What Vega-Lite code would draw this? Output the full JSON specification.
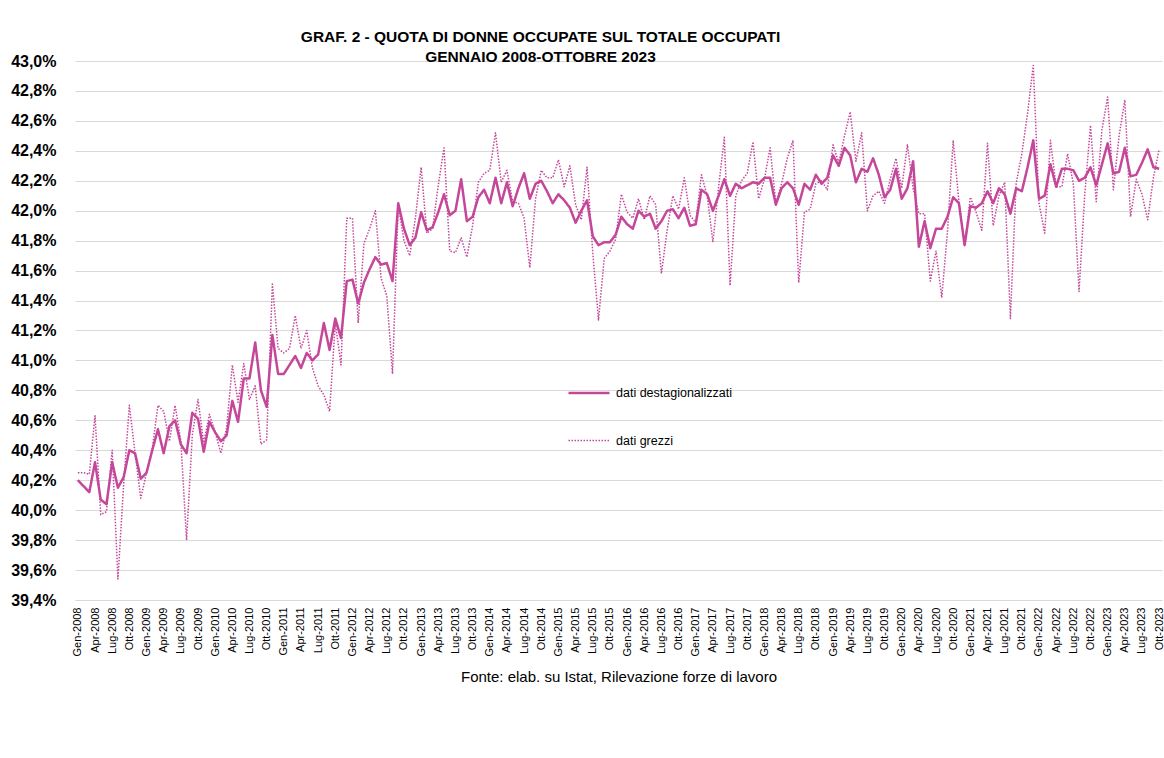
{
  "$schema": "https://vega.github.io/schema/vega-lite/v6.json",
  "autosize": {"type": "none"},
  "width": 1087,
  "height": 539,
  "padding": {"left": 75, "top": 61, "right": 2, "bottom": 158},
  "background": "white",
  "title": {
    "text": ["GRAF. 2 - QUOTA DI DONNE OCCUPATE SUL TOTALE OCCUPATI", "GENNAIO 2008-OTTOBRE 2023"],
    "anchor": "middle",
    "frame": "group",
    "dx": -78,
    "offset": -12,
    "font": "Liberation Sans",
    "fontSize": 15.5,
    "fontWeight": "bold",
    "color": "#000000",
    "lineHeight": 20
  },
  "config": {
    "view": {"stroke": null},
    "font": "Liberation Sans",
    "legend": {
      "orient": "none",
      "legendX": 492,
      "legendY": 310,
      "padding": 0,
      "symbolType": "stroke",
      "symbolSize": 1681,
      "symbolStrokeColor": "#C5479A",
      "rowPadding": 19,
      "labelOffset": 5,
      "labelFont": "Liberation Sans",
      "labelFontSize": 12.5,
      "labelColor": "#000000"
    }
  },
  "data": {"values": [
    {"m":"Gen-2008","s":"destagionalizzati","v":40.20},{"m":"Feb-2008","s":"destagionalizzati","v":40.16},{"m":"Mar-2008","s":"destagionalizzati","v":40.12},{"m":"Apr-2008","s":"destagionalizzati","v":40.32},{"m":"Mag-2008","s":"destagionalizzati","v":40.07},{"m":"Giu-2008","s":"destagionalizzati","v":40.04},{"m":"Lug-2008","s":"destagionalizzati","v":40.32},{"m":"Ago-2008","s":"destagionalizzati","v":40.15},{"m":"Set-2008","s":"destagionalizzati","v":40.22},{"m":"Ott-2008","s":"destagionalizzati","v":40.40},{"m":"Nov-2008","s":"destagionalizzati","v":40.38},{"m":"Dic-2008","s":"destagionalizzati","v":40.21},
    {"m":"Gen-2009","s":"destagionalizzati","v":40.25},{"m":"Feb-2009","s":"destagionalizzati","v":40.40},{"m":"Mar-2009","s":"destagionalizzati","v":40.54},{"m":"Apr-2009","s":"destagionalizzati","v":40.38},{"m":"Mag-2009","s":"destagionalizzati","v":40.56},{"m":"Giu-2009","s":"destagionalizzati","v":40.60},{"m":"Lug-2009","s":"destagionalizzati","v":40.44},{"m":"Ago-2009","s":"destagionalizzati","v":40.38},{"m":"Set-2009","s":"destagionalizzati","v":40.65},{"m":"Ott-2009","s":"destagionalizzati","v":40.61},{"m":"Nov-2009","s":"destagionalizzati","v":40.39},{"m":"Dic-2009","s":"destagionalizzati","v":40.59},
    {"m":"Gen-2010","s":"destagionalizzati","v":40.52},{"m":"Feb-2010","s":"destagionalizzati","v":40.46},{"m":"Mar-2010","s":"destagionalizzati","v":40.50},{"m":"Apr-2010","s":"destagionalizzati","v":40.73},{"m":"Mag-2010","s":"destagionalizzati","v":40.59},{"m":"Giu-2010","s":"destagionalizzati","v":40.88},{"m":"Lug-2010","s":"destagionalizzati","v":40.88},{"m":"Ago-2010","s":"destagionalizzati","v":41.12},{"m":"Set-2010","s":"destagionalizzati","v":40.80},{"m":"Ott-2010","s":"destagionalizzati","v":40.69},{"m":"Nov-2010","s":"destagionalizzati","v":41.17},{"m":"Dic-2010","s":"destagionalizzati","v":40.91},
    {"m":"Gen-2011","s":"destagionalizzati","v":40.91},{"m":"Feb-2011","s":"destagionalizzati","v":40.97},{"m":"Mar-2011","s":"destagionalizzati","v":41.03},{"m":"Apr-2011","s":"destagionalizzati","v":40.95},{"m":"Mag-2011","s":"destagionalizzati","v":41.05},{"m":"Giu-2011","s":"destagionalizzati","v":41.00},{"m":"Lug-2011","s":"destagionalizzati","v":41.04},{"m":"Ago-2011","s":"destagionalizzati","v":41.25},{"m":"Set-2011","s":"destagionalizzati","v":41.07},{"m":"Ott-2011","s":"destagionalizzati","v":41.28},{"m":"Nov-2011","s":"destagionalizzati","v":41.15},{"m":"Dic-2011","s":"destagionalizzati","v":41.53},
    {"m":"Gen-2012","s":"destagionalizzati","v":41.54},{"m":"Feb-2012","s":"destagionalizzati","v":41.38},{"m":"Mar-2012","s":"destagionalizzati","v":41.52},{"m":"Apr-2012","s":"destagionalizzati","v":41.61},{"m":"Mag-2012","s":"destagionalizzati","v":41.69},{"m":"Giu-2012","s":"destagionalizzati","v":41.64},{"m":"Lug-2012","s":"destagionalizzati","v":41.65},{"m":"Ago-2012","s":"destagionalizzati","v":41.53},{"m":"Set-2012","s":"destagionalizzati","v":42.05},{"m":"Ott-2012","s":"destagionalizzati","v":41.88},{"m":"Nov-2012","s":"destagionalizzati","v":41.77},{"m":"Dic-2012","s":"destagionalizzati","v":41.82},
    {"m":"Gen-2013","s":"destagionalizzati","v":41.99},{"m":"Feb-2013","s":"destagionalizzati","v":41.87},{"m":"Mar-2013","s":"destagionalizzati","v":41.89},{"m":"Apr-2013","s":"destagionalizzati","v":41.99},{"m":"Mag-2013","s":"destagionalizzati","v":42.11},{"m":"Giu-2013","s":"destagionalizzati","v":41.97},{"m":"Lug-2013","s":"destagionalizzati","v":42.00},{"m":"Ago-2013","s":"destagionalizzati","v":42.21},{"m":"Set-2013","s":"destagionalizzati","v":41.93},{"m":"Ott-2013","s":"destagionalizzati","v":41.96},{"m":"Nov-2013","s":"destagionalizzati","v":42.09},{"m":"Dic-2013","s":"destagionalizzati","v":42.14},
    {"m":"Gen-2014","s":"destagionalizzati","v":42.05},{"m":"Feb-2014","s":"destagionalizzati","v":42.22},{"m":"Mar-2014","s":"destagionalizzati","v":42.05},{"m":"Apr-2014","s":"destagionalizzati","v":42.19},{"m":"Mag-2014","s":"destagionalizzati","v":42.03},{"m":"Giu-2014","s":"destagionalizzati","v":42.15},{"m":"Lug-2014","s":"destagionalizzati","v":42.25},{"m":"Ago-2014","s":"destagionalizzati","v":42.08},{"m":"Set-2014","s":"destagionalizzati","v":42.18},{"m":"Ott-2014","s":"destagionalizzati","v":42.20},{"m":"Nov-2014","s":"destagionalizzati","v":42.13},{"m":"Dic-2014","s":"destagionalizzati","v":42.05},
    {"m":"Gen-2015","s":"destagionalizzati","v":42.11},{"m":"Feb-2015","s":"destagionalizzati","v":42.07},{"m":"Mar-2015","s":"destagionalizzati","v":42.02},{"m":"Apr-2015","s":"destagionalizzati","v":41.92},{"m":"Mag-2015","s":"destagionalizzati","v":42.00},{"m":"Giu-2015","s":"destagionalizzati","v":42.07},{"m":"Lug-2015","s":"destagionalizzati","v":41.83},{"m":"Ago-2015","s":"destagionalizzati","v":41.77},{"m":"Set-2015","s":"destagionalizzati","v":41.79},{"m":"Ott-2015","s":"destagionalizzati","v":41.79},{"m":"Nov-2015","s":"destagionalizzati","v":41.84},{"m":"Dic-2015","s":"destagionalizzati","v":41.96},
    {"m":"Gen-2016","s":"destagionalizzati","v":41.91},{"m":"Feb-2016","s":"destagionalizzati","v":41.88},{"m":"Mar-2016","s":"destagionalizzati","v":42.00},{"m":"Apr-2016","s":"destagionalizzati","v":41.96},{"m":"Mag-2016","s":"destagionalizzati","v":41.98},{"m":"Giu-2016","s":"destagionalizzati","v":41.88},{"m":"Lug-2016","s":"destagionalizzati","v":41.93},{"m":"Ago-2016","s":"destagionalizzati","v":42.00},{"m":"Set-2016","s":"destagionalizzati","v":42.01},{"m":"Ott-2016","s":"destagionalizzati","v":41.95},{"m":"Nov-2016","s":"destagionalizzati","v":42.02},{"m":"Dic-2016","s":"destagionalizzati","v":41.90},
    {"m":"Gen-2017","s":"destagionalizzati","v":41.91},{"m":"Feb-2017","s":"destagionalizzati","v":42.14},{"m":"Mar-2017","s":"destagionalizzati","v":42.11},{"m":"Apr-2017","s":"destagionalizzati","v":42.00},{"m":"Mag-2017","s":"destagionalizzati","v":42.10},{"m":"Giu-2017","s":"destagionalizzati","v":42.21},{"m":"Lug-2017","s":"destagionalizzati","v":42.10},{"m":"Ago-2017","s":"destagionalizzati","v":42.18},{"m":"Set-2017","s":"destagionalizzati","v":42.15},{"m":"Ott-2017","s":"destagionalizzati","v":42.17},{"m":"Nov-2017","s":"destagionalizzati","v":42.19},{"m":"Dic-2017","s":"destagionalizzati","v":42.18},
    {"m":"Gen-2018","s":"destagionalizzati","v":42.22},{"m":"Feb-2018","s":"destagionalizzati","v":42.22},{"m":"Mar-2018","s":"destagionalizzati","v":42.04},{"m":"Apr-2018","s":"destagionalizzati","v":42.15},{"m":"Mag-2018","s":"destagionalizzati","v":42.19},{"m":"Giu-2018","s":"destagionalizzati","v":42.15},{"m":"Lug-2018","s":"destagionalizzati","v":42.04},{"m":"Ago-2018","s":"destagionalizzati","v":42.18},{"m":"Set-2018","s":"destagionalizzati","v":42.14},{"m":"Ott-2018","s":"destagionalizzati","v":42.24},{"m":"Nov-2018","s":"destagionalizzati","v":42.18},{"m":"Dic-2018","s":"destagionalizzati","v":42.22},
    {"m":"Gen-2019","s":"destagionalizzati","v":42.37},{"m":"Feb-2019","s":"destagionalizzati","v":42.30},{"m":"Mar-2019","s":"destagionalizzati","v":42.42},{"m":"Apr-2019","s":"destagionalizzati","v":42.37},{"m":"Mag-2019","s":"destagionalizzati","v":42.19},{"m":"Giu-2019","s":"destagionalizzati","v":42.28},{"m":"Lug-2019","s":"destagionalizzati","v":42.26},{"m":"Ago-2019","s":"destagionalizzati","v":42.35},{"m":"Set-2019","s":"destagionalizzati","v":42.24},{"m":"Ott-2019","s":"destagionalizzati","v":42.09},{"m":"Nov-2019","s":"destagionalizzati","v":42.14},{"m":"Dic-2019","s":"destagionalizzati","v":42.28},
    {"m":"Gen-2020","s":"destagionalizzati","v":42.08},{"m":"Feb-2020","s":"destagionalizzati","v":42.15},{"m":"Mar-2020","s":"destagionalizzati","v":42.33},{"m":"Apr-2020","s":"destagionalizzati","v":41.76},{"m":"Mag-2020","s":"destagionalizzati","v":41.93},{"m":"Giu-2020","s":"destagionalizzati","v":41.75},{"m":"Lug-2020","s":"destagionalizzati","v":41.88},{"m":"Ago-2020","s":"destagionalizzati","v":41.88},{"m":"Set-2020","s":"destagionalizzati","v":41.96},{"m":"Ott-2020","s":"destagionalizzati","v":42.09},{"m":"Nov-2020","s":"destagionalizzati","v":42.05},{"m":"Dic-2020","s":"destagionalizzati","v":41.77},
    {"m":"Gen-2021","s":"destagionalizzati","v":42.03},{"m":"Feb-2021","s":"destagionalizzati","v":42.02},{"m":"Mar-2021","s":"destagionalizzati","v":42.05},{"m":"Apr-2021","s":"destagionalizzati","v":42.13},{"m":"Mag-2021","s":"destagionalizzati","v":42.05},{"m":"Giu-2021","s":"destagionalizzati","v":42.15},{"m":"Lug-2021","s":"destagionalizzati","v":42.11},{"m":"Ago-2021","s":"destagionalizzati","v":41.98},{"m":"Set-2021","s":"destagionalizzati","v":42.15},{"m":"Ott-2021","s":"destagionalizzati","v":42.13},{"m":"Nov-2021","s":"destagionalizzati","v":42.29},{"m":"Dic-2021","s":"destagionalizzati","v":42.47},
    {"m":"Gen-2022","s":"destagionalizzati","v":42.08},{"m":"Feb-2022","s":"destagionalizzati","v":42.10},{"m":"Mar-2022","s":"destagionalizzati","v":42.31},{"m":"Apr-2022","s":"destagionalizzati","v":42.16},{"m":"Mag-2022","s":"destagionalizzati","v":42.28},{"m":"Giu-2022","s":"destagionalizzati","v":42.28},{"m":"Lug-2022","s":"destagionalizzati","v":42.27},{"m":"Ago-2022","s":"destagionalizzati","v":42.20},{"m":"Set-2022","s":"destagionalizzati","v":42.22},{"m":"Ott-2022","s":"destagionalizzati","v":42.29},{"m":"Nov-2022","s":"destagionalizzati","v":42.17},{"m":"Dic-2022","s":"destagionalizzati","v":42.31},
    {"m":"Gen-2023","s":"destagionalizzati","v":42.45},{"m":"Feb-2023","s":"destagionalizzati","v":42.25},{"m":"Mar-2023","s":"destagionalizzati","v":42.26},{"m":"Apr-2023","s":"destagionalizzati","v":42.42},{"m":"Mag-2023","s":"destagionalizzati","v":42.23},{"m":"Giu-2023","s":"destagionalizzati","v":42.24},{"m":"Lug-2023","s":"destagionalizzati","v":42.32},{"m":"Ago-2023","s":"destagionalizzati","v":42.41},{"m":"Set-2023","s":"destagionalizzati","v":42.29},{"m":"Ott-2023","s":"destagionalizzati","v":42.28},
    {"m":"Gen-2008","s":"grezzi","v":40.25},{"m":"Feb-2008","s":"grezzi","v":40.25},{"m":"Mar-2008","s":"grezzi","v":40.24},{"m":"Apr-2008","s":"grezzi","v":40.63},{"m":"Mag-2008","s":"grezzi","v":39.97},{"m":"Giu-2008","s":"grezzi","v":39.99},{"m":"Lug-2008","s":"grezzi","v":40.40},{"m":"Ago-2008","s":"grezzi","v":39.54},{"m":"Set-2008","s":"grezzi","v":40.17},{"m":"Ott-2008","s":"grezzi","v":40.70},{"m":"Nov-2008","s":"grezzi","v":40.38},{"m":"Dic-2008","s":"grezzi","v":40.08},
    {"m":"Gen-2009","s":"grezzi","v":40.25},{"m":"Feb-2009","s":"grezzi","v":40.41},{"m":"Mar-2009","s":"grezzi","v":40.70},{"m":"Apr-2009","s":"grezzi","v":40.66},{"m":"Mag-2009","s":"grezzi","v":40.46},{"m":"Giu-2009","s":"grezzi","v":40.70},{"m":"Lug-2009","s":"grezzi","v":40.46},{"m":"Ago-2009","s":"grezzi","v":39.80},{"m":"Set-2009","s":"grezzi","v":40.50},{"m":"Ott-2009","s":"grezzi","v":40.74},{"m":"Nov-2009","s":"grezzi","v":40.45},{"m":"Dic-2009","s":"grezzi","v":40.64},
    {"m":"Gen-2010","s":"grezzi","v":40.52},{"m":"Feb-2010","s":"grezzi","v":40.38},{"m":"Mar-2010","s":"grezzi","v":40.55},{"m":"Apr-2010","s":"grezzi","v":40.97},{"m":"Mag-2010","s":"grezzi","v":40.72},{"m":"Giu-2010","s":"grezzi","v":40.98},{"m":"Lug-2010","s":"grezzi","v":40.74},{"m":"Ago-2010","s":"grezzi","v":40.83},{"m":"Set-2010","s":"grezzi","v":40.44},{"m":"Ott-2010","s":"grezzi","v":40.47},{"m":"Nov-2010","s":"grezzi","v":41.51},{"m":"Dic-2010","s":"grezzi","v":41.08},
    {"m":"Gen-2011","s":"grezzi","v":41.05},{"m":"Feb-2011","s":"grezzi","v":41.08},{"m":"Mar-2011","s":"grezzi","v":41.30},{"m":"Apr-2011","s":"grezzi","v":41.08},{"m":"Mag-2011","s":"grezzi","v":41.20},{"m":"Giu-2011","s":"grezzi","v":40.95},{"m":"Lug-2011","s":"grezzi","v":40.83},{"m":"Ago-2011","s":"grezzi","v":40.77},{"m":"Set-2011","s":"grezzi","v":40.66},{"m":"Ott-2011","s":"grezzi","v":41.25},{"m":"Nov-2011","s":"grezzi","v":40.97},{"m":"Dic-2011","s":"grezzi","v":41.95},
    {"m":"Gen-2012","s":"grezzi","v":41.95},{"m":"Feb-2012","s":"grezzi","v":41.25},{"m":"Mar-2012","s":"grezzi","v":41.78},{"m":"Apr-2012","s":"grezzi","v":41.88},{"m":"Mag-2012","s":"grezzi","v":42.00},{"m":"Giu-2012","s":"grezzi","v":41.55},{"m":"Lug-2012","s":"grezzi","v":41.43},{"m":"Ago-2012","s":"grezzi","v":40.91},{"m":"Set-2012","s":"grezzi","v":42.04},{"m":"Ott-2012","s":"grezzi","v":41.80},{"m":"Nov-2012","s":"grezzi","v":41.70},{"m":"Dic-2012","s":"grezzi","v":41.95},
    {"m":"Gen-2013","s":"grezzi","v":42.29},{"m":"Feb-2013","s":"grezzi","v":41.85},{"m":"Mar-2013","s":"grezzi","v":41.88},{"m":"Apr-2013","s":"grezzi","v":42.17},{"m":"Mag-2013","s":"grezzi","v":42.42},{"m":"Giu-2013","s":"grezzi","v":41.73},{"m":"Lug-2013","s":"grezzi","v":41.72},{"m":"Ago-2013","s":"grezzi","v":41.82},{"m":"Set-2013","s":"grezzi","v":41.69},{"m":"Ott-2013","s":"grezzi","v":41.90},{"m":"Nov-2013","s":"grezzi","v":42.19},{"m":"Dic-2013","s":"grezzi","v":42.25},
    {"m":"Gen-2014","s":"grezzi","v":42.27},{"m":"Feb-2014","s":"grezzi","v":42.52},{"m":"Mar-2014","s":"grezzi","v":42.19},{"m":"Apr-2014","s":"grezzi","v":42.27},{"m":"Mag-2014","s":"grezzi","v":42.06},{"m":"Giu-2014","s":"grezzi","v":42.05},{"m":"Lug-2014","s":"grezzi","v":41.95},{"m":"Ago-2014","s":"grezzi","v":41.62},{"m":"Set-2014","s":"grezzi","v":42.08},{"m":"Ott-2014","s":"grezzi","v":42.27},{"m":"Nov-2014","s":"grezzi","v":42.22},{"m":"Dic-2014","s":"grezzi","v":42.22},
    {"m":"Gen-2015","s":"grezzi","v":42.34},{"m":"Feb-2015","s":"grezzi","v":42.16},{"m":"Mar-2015","s":"grezzi","v":42.30},{"m":"Apr-2015","s":"grezzi","v":42.04},{"m":"Mag-2015","s":"grezzi","v":41.94},{"m":"Giu-2015","s":"grezzi","v":42.29},{"m":"Lug-2015","s":"grezzi","v":41.72},{"m":"Ago-2015","s":"grezzi","v":41.27},{"m":"Set-2015","s":"grezzi","v":41.68},{"m":"Ott-2015","s":"grezzi","v":41.73},{"m":"Nov-2015","s":"grezzi","v":41.81},{"m":"Dic-2015","s":"grezzi","v":42.11},
    {"m":"Gen-2016","s":"grezzi","v":41.99},{"m":"Feb-2016","s":"grezzi","v":41.95},{"m":"Mar-2016","s":"grezzi","v":42.08},{"m":"Apr-2016","s":"grezzi","v":41.94},{"m":"Mag-2016","s":"grezzi","v":42.10},{"m":"Giu-2016","s":"grezzi","v":42.04},{"m":"Lug-2016","s":"grezzi","v":41.58},{"m":"Ago-2016","s":"grezzi","v":41.87},{"m":"Set-2016","s":"grezzi","v":42.10},{"m":"Ott-2016","s":"grezzi","v":42.01},{"m":"Nov-2016","s":"grezzi","v":42.22},{"m":"Dic-2016","s":"grezzi","v":41.97},
    {"m":"Gen-2017","s":"grezzi","v":41.92},{"m":"Feb-2017","s":"grezzi","v":42.24},{"m":"Mar-2017","s":"grezzi","v":42.10},{"m":"Apr-2017","s":"grezzi","v":41.79},{"m":"Mag-2017","s":"grezzi","v":42.16},{"m":"Giu-2017","s":"grezzi","v":42.49},{"m":"Lug-2017","s":"grezzi","v":41.50},{"m":"Ago-2017","s":"grezzi","v":42.10},{"m":"Set-2017","s":"grezzi","v":42.20},{"m":"Ott-2017","s":"grezzi","v":42.25},{"m":"Nov-2017","s":"grezzi","v":42.46},{"m":"Dic-2017","s":"grezzi","v":42.08},
    {"m":"Gen-2018","s":"grezzi","v":42.21},{"m":"Feb-2018","s":"grezzi","v":42.42},{"m":"Mar-2018","s":"grezzi","v":42.05},{"m":"Apr-2018","s":"grezzi","v":42.18},{"m":"Mag-2018","s":"grezzi","v":42.35},{"m":"Giu-2018","s":"grezzi","v":42.47},{"m":"Lug-2018","s":"grezzi","v":41.52},{"m":"Ago-2018","s":"grezzi","v":41.99},{"m":"Set-2018","s":"grezzi","v":42.01},{"m":"Ott-2018","s":"grezzi","v":42.18},{"m":"Nov-2018","s":"grezzi","v":42.20},{"m":"Dic-2018","s":"grezzi","v":42.14},
    {"m":"Gen-2019","s":"grezzi","v":42.44},{"m":"Feb-2019","s":"grezzi","v":42.32},{"m":"Mar-2019","s":"grezzi","v":42.50},{"m":"Apr-2019","s":"grezzi","v":42.66},{"m":"Mag-2019","s":"grezzi","v":42.33},{"m":"Giu-2019","s":"grezzi","v":42.52},{"m":"Lug-2019","s":"grezzi","v":42.00},{"m":"Ago-2019","s":"grezzi","v":42.10},{"m":"Set-2019","s":"grezzi","v":42.13},{"m":"Ott-2019","s":"grezzi","v":42.05},{"m":"Nov-2019","s":"grezzi","v":42.21},{"m":"Dic-2019","s":"grezzi","v":42.35},
    {"m":"Gen-2020","s":"grezzi","v":42.15},{"m":"Feb-2020","s":"grezzi","v":42.44},{"m":"Mar-2020","s":"grezzi","v":42.15},{"m":"Apr-2020","s":"grezzi","v":41.98},{"m":"Mag-2020","s":"grezzi","v":41.98},{"m":"Giu-2020","s":"grezzi","v":41.53},{"m":"Lug-2020","s":"grezzi","v":41.73},{"m":"Ago-2020","s":"grezzi","v":41.42},{"m":"Set-2020","s":"grezzi","v":41.86},{"m":"Ott-2020","s":"grezzi","v":42.47},{"m":"Nov-2020","s":"grezzi","v":42.06},{"m":"Dic-2020","s":"grezzi","v":41.77},
    {"m":"Gen-2021","s":"grezzi","v":42.09},{"m":"Feb-2021","s":"grezzi","v":41.99},{"m":"Mar-2021","s":"grezzi","v":41.87},{"m":"Apr-2021","s":"grezzi","v":42.45},{"m":"Mag-2021","s":"grezzi","v":41.90},{"m":"Giu-2021","s":"grezzi","v":42.10},{"m":"Lug-2021","s":"grezzi","v":42.19},{"m":"Ago-2021","s":"grezzi","v":41.28},{"m":"Set-2021","s":"grezzi","v":42.18},{"m":"Ott-2021","s":"grezzi","v":42.38},{"m":"Nov-2021","s":"grezzi","v":42.65},{"m":"Dic-2021","s":"grezzi","v":42.97},
    {"m":"Gen-2022","s":"grezzi","v":42.05},{"m":"Feb-2022","s":"grezzi","v":41.85},{"m":"Mar-2022","s":"grezzi","v":42.47},{"m":"Apr-2022","s":"grezzi","v":42.16},{"m":"Mag-2022","s":"grezzi","v":42.16},{"m":"Giu-2022","s":"grezzi","v":42.38},{"m":"Lug-2022","s":"grezzi","v":42.18},{"m":"Ago-2022","s":"grezzi","v":41.46},{"m":"Set-2022","s":"grezzi","v":42.11},{"m":"Ott-2022","s":"grezzi","v":42.57},{"m":"Nov-2022","s":"grezzi","v":42.06},{"m":"Dic-2022","s":"grezzi","v":42.54},
    {"m":"Gen-2023","s":"grezzi","v":42.76},{"m":"Feb-2023","s":"grezzi","v":42.14},{"m":"Mar-2023","s":"grezzi","v":42.50},{"m":"Apr-2023","s":"grezzi","v":42.74},{"m":"Mag-2023","s":"grezzi","v":41.96},{"m":"Giu-2023","s":"grezzi","v":42.21},{"m":"Lug-2023","s":"grezzi","v":42.11},{"m":"Ago-2023","s":"grezzi","v":41.94},{"m":"Set-2023","s":"grezzi","v":42.22},{"m":"Ott-2023","s":"grezzi","v":42.41}
  ]},
  "mark": {"type": "line", "color": "#C5479A", "strokeCap": "butt", "strokeJoin": "round"},
  "encoding": {
    "x": {
      "field": "m",
      "type": "ordinal",
      "sort": null,
      "scale": {"type": "point", "padding": 0.5},
      "axis": {
        "title": "Fonte: elab. su Istat, Rilevazione forze di lavoro",
        "titleFont": "Liberation Sans",
        "titleFontSize": 15,
        "titleFontWeight": "normal",
        "titleColor": "#000000",
        "titlePadding": 14,
        "labelExpr": "indexof(['Gen','Apr','Lug','Ott'], substring(datum.value,0,3)) >= 0 ? datum.value : ''",
        "labelAngle": 270,
        "labelFont": "Liberation Sans",
        "labelFontSize": 11,
        "labelColor": "#000000",
        "labelOverlap": false,
        "labelPadding": 7,
        "ticks": false,
        "grid": false,
        "domain": true,
        "domainColor": "#D9D9D9",
        "domainWidth": 1
      }
    },
    "y": {
      "field": "v",
      "type": "quantitative",
      "scale": {"domain": [39.4, 43.0], "nice": false, "zero": false},
      "axis": {
        "title": null,
        "values": [39.4, 39.6, 39.8, 40.0, 40.2, 40.4, 40.6, 40.8, 41.0, 41.2, 41.4, 41.6, 41.8, 42.0, 42.2, 42.4, 42.6, 42.8, 43.0],
        "labelExpr": "replace(format(datum.value, '.1f'), '.', ',') + '%'",
        "labelFont": "Liberation Sans",
        "labelFontSize": 16,
        "labelFontWeight": "bold",
        "labelColor": "#000000",
        "labelPadding": 19,
        "ticks": false,
        "domain": false,
        "grid": true,
        "gridColor": "#D9D9D9",
        "gridWidth": 1
      }
    },
    "detail": {"field": "s"},
    "strokeDash": {
      "field": "s",
      "type": "nominal",
      "scale": {"domain": ["destagionalizzati", "grezzi"], "range": [[1, 0], [1.5, 1.5]]},
      "legend": {"title": null, "labelExpr": "'dati ' + datum.label"}
    },
    "strokeWidth": {
      "field": "s",
      "type": "nominal",
      "scale": {"domain": ["destagionalizzati", "grezzi"], "range": [2.5, 1.5]},
      "legend": {"title": null, "labelExpr": "'dati ' + datum.label"}
    }
  }
}
